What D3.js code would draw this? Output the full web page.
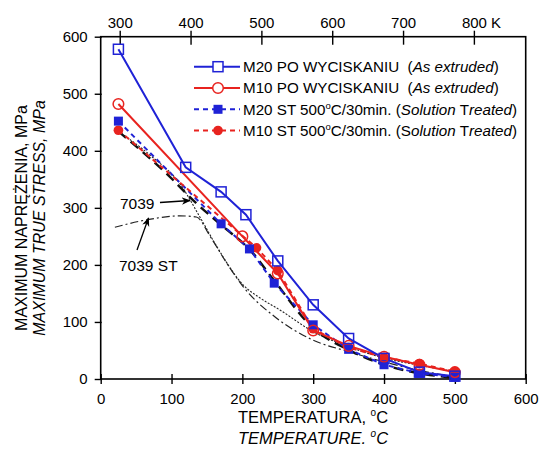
<!DOCTYPE html>
<html>
<head>
<meta charset="utf-8">
<script src="https://cdn.jsdelivr.net/npm/d3@7"></script>
<style>
body{margin:0;background:#fff;}
svg text{font-family:"Liberation Sans",Arial,sans-serif;fill:#000;}
</style>
</head>
<body>
<svg id="chart" width="540" height="454"></svg>
<script>
// series (temperature in C, stress in MPa)
var m20_ae_t = [25,120,170,205,250,300,350,400,450,500];
var m20_ae_v = [578,371,328,288,207,130,71,36,12,5];

var m10_ae_t = [25,200,250,300,350,400,450,500];
var m10_ae_v = [482,250,185,85,58,39,25,12];

var m20_st_t = [25,170,210,245,300,350,400,450,500];
var m20_st_v = [452,272,228,168,95,52,25,10,3];

var m10_st_t = [25,220,250,300,350,400,450,500];
var m10_st_v = [436,230,190,88,55,38,27,13];

// black reference curves
var a7039_t = [25,70,112,140,164,201,225,253,300,349,399,450,499];
var a7039_v = [434,392,342,284,232,165,142,121,83,57,37,24,13];

var a7039st_t = [20,65,112,135,155,178,201,248,300,350,400,450,500];
var a7039st_v = [266,279,286,284,249,203,162,107,68,48,30,15,4];

var trend_t = [25,93,135,173,211,244,300,350,400,450,500];
var trend_v = [434,360,308,267,226,174,89,51,25,10,2];

var xTicks = [0,100,200,300,400,500,600];
var yTicks = [0,100,200,300,400,500,600];
var kTicks = [300,400,500,600,700,800];

var blue = "#1f22d6", red = "#e8231f";

var svg = d3.select("#chart");
var x = d3.scaleLinear().domain([0,600]).range([100.7,525.7]);
var y = d3.scaleLinear().domain([0,600]).range([379,36.7]);
var xk = d3.scaleLinear().domain([273.15,873.15]).range([100.7,525.7]);

function pts(t,v){ return t.map(function(d,i){return [d,v[i]];}); }

var line = d3.line().x(function(d){return x(d[0]);}).y(function(d){return y(d[1]);});
var smooth = d3.line().curve(d3.curveMonotoneX).x(function(d){return x(d[0]);}).y(function(d){return y(d[1]);});

// frame
svg.append("rect").attr("x",x(0)).attr("y",y(600))
   .attr("width",x(600)-x(0)).attr("height",y(0)-y(600))
   .attr("fill","none").attr("stroke","#000").attr("stroke-width",1.6);

// bottom axis
var gx = svg.append("g").attr("transform","translate(0,"+y(0)+")")
   .call(d3.axisBottom(x).tickValues(xTicks).tickSize(0).tickPadding(14));
gx.select(".domain").remove();
gx.selectAll(".tick line").attr("y1",-5).attr("y2",5).attr("stroke","#000").attr("stroke-width",1.4);
gx.selectAll(".tick text").attr("font-size","15px");

// left axis
var gy = svg.append("g").attr("transform","translate("+x(0)+",0)")
   .call(d3.axisLeft(y).tickValues(yTicks).tickSize(0).tickPadding(13));
gy.select(".domain").remove();
gy.selectAll(".tick line").attr("x1",-6).attr("x2",1).attr("stroke","#000").attr("stroke-width",1.4);
gy.selectAll(".tick text").attr("font-size","15px");

// top axis in Kelvin
var gk = svg.append("g").attr("transform","translate(0,"+y(600)+")")
   .call(d3.axisTop(xk).tickValues(kTicks).tickSize(0).tickPadding(9)
   .tickFormat(function(d){return d;}));
gk.select(".domain").remove();
gk.selectAll(".tick line").attr("y1",-6).attr("y2",8).attr("stroke","#000").attr("stroke-width",1.4);
gk.selectAll(".tick text").attr("font-size","15px");
gk.selectAll(".tick").filter(function(d){return d==800;}).select("text")
   .attr("text-anchor","start").attr("x",-12.5).text("800 K");

// black curves
svg.append("path").datum(pts(a7039_t,a7039_v)).attr("d",smooth)
   .attr("fill","none").attr("stroke","#222").attr("stroke-width",1.1).attr("stroke-dasharray","2,1.5");
svg.append("path").datum(pts(a7039st_t,a7039st_v)).attr("d",smooth)
   .attr("fill","none").attr("stroke","#222").attr("stroke-width",1.2).attr("stroke-dasharray","8,3,2,3");
svg.append("path").datum(pts(trend_t,trend_v)).attr("d",smooth)
   .attr("fill","none").attr("stroke","#111").attr("stroke-width",2.4).attr("stroke-dasharray","10,6");

// dashed ST series
svg.append("path").datum(pts(m20_st_t,m20_st_v)).attr("d",line)
   .attr("fill","none").attr("stroke",blue).attr("stroke-width",2).attr("stroke-dasharray","5,4");
svg.append("path").datum(pts(m10_st_t,m10_st_v)).attr("d",line)
   .attr("fill","none").attr("stroke",red).attr("stroke-width",2).attr("stroke-dasharray","5,4");

// solid as extruded
svg.append("path").datum(pts(m10_ae_t,m10_ae_v)).attr("d",line)
   .attr("fill","none").attr("stroke",red).attr("stroke-width",2);
svg.append("path").datum(pts(m20_ae_t,m20_ae_v)).attr("d",line)
   .attr("fill","none").attr("stroke",blue).attr("stroke-width",2);

// markers
svg.selectAll(".m10st").data(pts(m10_st_t,m10_st_v)).enter().append("circle")
   .attr("cx",function(d){return x(d[0]);}).attr("cy",function(d){return y(d[1]);})
   .attr("r",4.8).attr("fill",red);
svg.selectAll(".m20st").data(pts(m20_st_t,m20_st_v)).enter().append("rect")
   .attr("x",function(d){return x(d[0])-4.5;}).attr("y",function(d){return y(d[1])-4.5;})
   .attr("width",9).attr("height",9).attr("fill",blue);
svg.selectAll(".m10ae").data(pts(m10_ae_t,m10_ae_v)).enter().append("circle")
   .attr("cx",function(d){return x(d[0]);}).attr("cy",function(d){return y(d[1]);})
   .attr("r",5.3).attr("fill","none").attr("stroke",red).attr("stroke-width",1.5);
svg.selectAll(".m20ae").data(pts(m20_ae_t,m20_ae_v)).enter().append("rect")
   .attr("x",function(d){return x(d[0])-5;}).attr("y",function(d){return y(d[1])-5;})
   .attr("width",10).attr("height",10).attr("fill","none").attr("stroke",blue).attr("stroke-width",1.5);

// legend
var leg = [
  {c:blue, dash:null, mk:"osq", parts:[["M20 PO WYCISKANIU  (",0],["As extruded",1],[")",0]]},
  {c:red, dash:null, mk:"oci", parts:[["M10 PO WYCISKANIU  (",0],["As extruded",1],[")",0]]},
  {c:blue, dash:"5,4", mk:"fsq", parts:[["M20 ST 500",0],["o",2],["C/30min. (",0],["Solution",1],[" T",0],["reated",1],[")",0]]},
  {c:red, dash:"5,4", mk:"fci", parts:[["M10 ST 500",0],["o",2],["C/30min. (S",0],["olution",1],[" T",0],["reated",1],[")",0]]}
];
var legY = [66.7,88,109.3,130.5];
leg.forEach(function(d,i){
  var g = svg.append("g").attr("transform","translate(0,"+legY[i]+")");
  g.append("line").attr("x1",194).attr("x2",240).attr("y1",0).attr("y2",0)
   .attr("stroke",d.c).attr("stroke-width",2).attr("stroke-dasharray",d.dash);
  if(d.mk=="osq") g.append("rect").attr("x",213).attr("y",-5).attr("width",10).attr("height",10)
     .attr("fill","#fff").attr("stroke",d.c).attr("stroke-width",1.5);
  if(d.mk=="oci") g.append("circle").attr("cx",218).attr("cy",0).attr("r",5.3)
     .attr("fill","#fff").attr("stroke",d.c).attr("stroke-width",1.5);
  if(d.mk=="fsq") g.append("rect").attr("x",213.5).attr("y",-4.5).attr("width",9).attr("height",9).attr("fill",d.c);
  if(d.mk=="fci") g.append("circle").attr("cx",218).attr("cy",0).attr("r",4.8).attr("fill",d.c);
  var t = g.append("text").attr("x",243).attr("y",5.3).attr("font-size","15.2px").attr("xml:space","preserve");
  var sup = false;
  d.parts.forEach(function(p){
    var s = t.append("tspan").text(p[0]);
    if(p[1]==1) s.attr("font-style","italic");
    if(p[1]==2){ s.attr("font-size","9.5px").attr("dy",-6); sup = true; }
    else if(sup){ s.attr("dy",6); sup = false; }
  });
});

// annotations for 7039 curves
var defs = svg.append("defs");
defs.append("marker").attr("id","arr").attr("viewBox","0 0 10 10").attr("refX",9).attr("refY",5)
   .attr("markerWidth",7).attr("markerHeight",7).attr("orient","auto")
   .append("path").attr("d","M0,1 L10,5 L0,9 L3,5 Z").attr("fill","#000");
svg.append("text").attr("x",120).attr("y",208.5).attr("font-size","15.5px").text("7039");
svg.append("line").attr("x1",160).attr("y1",202.5).attr("x2",190).attr("y2",200.5)
   .attr("stroke","#000").attr("stroke-width",1.3).attr("marker-end","url(#arr)");
svg.append("text").attr("x",119).attr("y",271).attr("font-size","15.5px").text("7039 ST");
svg.append("line").attr("x1",137).attr("y1",250).attr("x2",148.5).attr("y2",218)
   .attr("stroke","#000").attr("stroke-width",1.3).attr("marker-end","url(#arr)");

// axis titles
var xt = svg.append("text").attr("x",313).attr("y",423).attr("text-anchor","middle").attr("font-size","16.5px");
xt.append("tspan").text("TEMPERATURA, ");
xt.append("tspan").attr("font-size","10px").attr("dy",-7).text("o");
xt.append("tspan").attr("dy",7).text("C");
var xt2 = svg.append("text").attr("x",313).attr("y",444).attr("text-anchor","middle")
   .attr("font-size","16.5px").attr("font-style","italic");
xt2.append("tspan").text("TEMPERATURE. ");
xt2.append("tspan").attr("font-size","10px").attr("dy",-7).text("o");
xt2.append("tspan").attr("dy",7).text("C");

svg.append("text").attr("transform","translate(27,218) rotate(-90)").attr("text-anchor","middle")
   .attr("font-size","16px").text("MAXIMUM NAPRĘŻENIA, MPa");
svg.append("text").attr("transform","translate(45,218) rotate(-90)").attr("text-anchor","middle")
   .attr("font-size","16px").attr("font-style","italic").text("MAXIMUM TRUE STRESS, MPa");
</script>
</body>
</html>
